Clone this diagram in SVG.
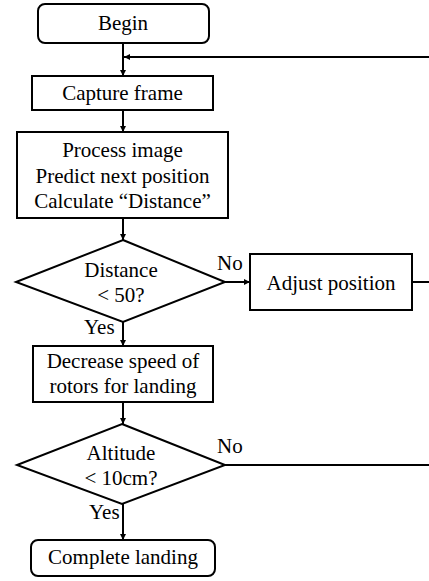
<svg xmlns="http://www.w3.org/2000/svg" width="429" height="581" viewBox="0 0 429 581">
<defs>
<marker id="ah" viewBox="0 0 10 10" refX="10" refY="5" markerWidth="6" markerHeight="6" markerUnits="userSpaceOnUse" orient="auto">
<path d="M0,0 L10,5 L0,10 z" fill="#000"/>
</marker>
<style>
.n{fill:#fff;stroke:#000;stroke-width:2}
.c{fill:none;stroke:#000;stroke-width:2}
.a{marker-end:url(#ah)}
text{font-family:'Liberation Serif','Times New Roman',serif;font-size:21px;fill:#000}
.t{text-anchor:middle}
</style>
</defs>
<rect width="429" height="581" fill="#fff"/>
<g id="connectors">
<path class="c a" d="M123,43 V76"/>
<path class="c a" d="M435,57 H124"/>
<path class="c a" d="M123,110 V132"/>
<path class="c a" d="M123,218 V240"/>
<path class="c a" d="M225,282 H250"/>
<path class="c" d="M412,282 H435"/>
<path class="c a" d="M123,322 V346"/>
<path class="c a" d="M123,402 V424"/>
<path class="c" d="M225,465 H435"/>
<path class="c a" d="M123,504 V540"/>
<text x="217" y="270">No</text>
<text x="84" y="334">Yes</text>
<text x="217" y="453">No</text>
<text x="89" y="519">Yes</text>
</g>
<g id="begin">
<rect class="n" x="38" y="4" width="171" height="39" rx="7"/>
<text class="t" x="123" y="30">Begin</text>
</g>
<g id="capture">
<rect class="n" x="32" y="76" width="181" height="34"/>
<text class="t" x="122.5" y="100">Capture frame</text>
</g>
<g id="process">
<rect class="n" x="17" y="132" width="211" height="86"/>
<text class="t" x="122.5" y="157">Process image</text>
<text class="t" x="122.5" y="183">Predict next position</text>
<text class="t" x="122.5" y="208">Calculate “Distance”</text>
</g>
<g id="decision1">
<polygon class="n" points="123,240 225,282 123,322 16,282"/>
<text class="t" x="121" y="277">Distance</text>
<text class="t" x="121" y="302">&lt; 50?</text>
</g>
<g id="adjust">
<rect class="n" x="250" y="254" width="162" height="56"/>
<text class="t" x="331" y="290">Adjust position</text>
</g>
<g id="decrease">
<rect class="n" x="33" y="346" width="180" height="56"/>
<text class="t" x="123" y="368">Decrease speed of</text>
<text class="t" x="123" y="393">rotors for landing</text>
</g>
<g id="decision2">
<polygon class="n" points="122,424 225,465 122,504 17,465"/>
<text class="t" x="121" y="460">Altitude</text>
<text class="t" x="121" y="485">&lt; 10cm?</text>
</g>
<g id="complete">
<rect class="n" x="31" y="540" width="184" height="36" rx="7"/>
<text class="t" x="123" y="564">Complete landing</text>
</g>
</svg>
